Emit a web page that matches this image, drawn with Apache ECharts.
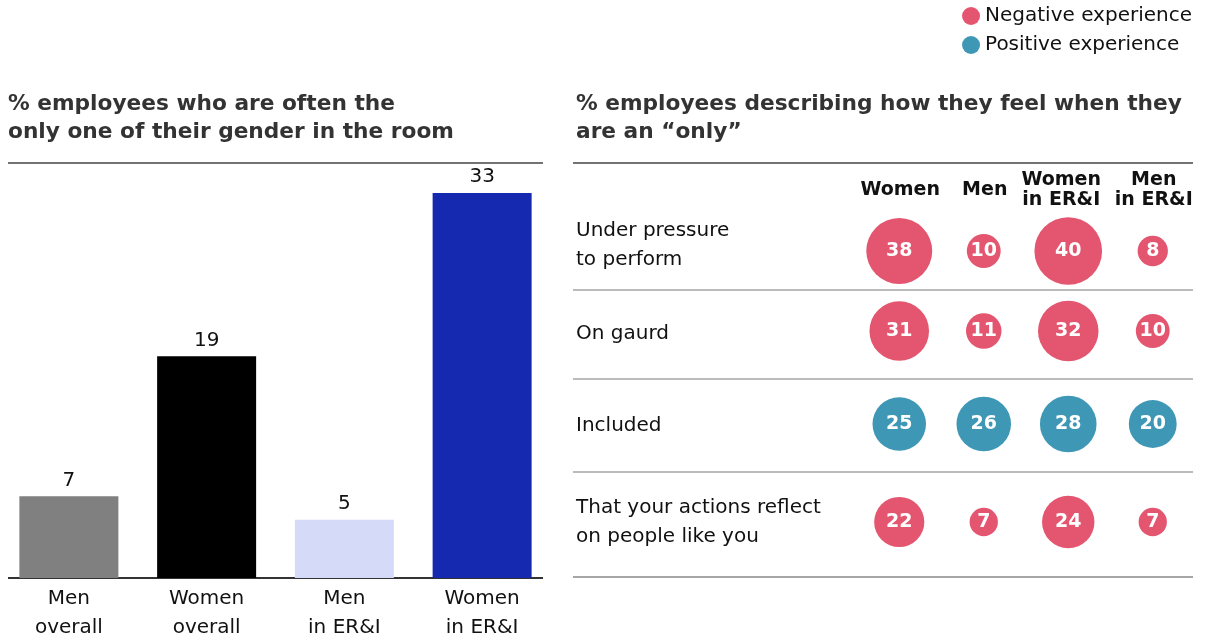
<!DOCTYPE html>
<html>
<head>
<meta charset="utf-8">
<script src="https://cdn.jsdelivr.net/npm/echarts@6/dist/echarts.min.js"></script>
<style>
  html, body { margin: 0; padding: 0; background: #fff; }
  #chart { width: 1206px; height: 638px; }
</style>
</head>
<body>
<div id="chart"></div>
<script>
// Share of employees who are often the only one of their gender in the room
const barCategories = ['Men\noverall', 'Women\noverall', 'Men\nin ER&I', 'Women\nin ER&I'];
const barValues = [7, 19, 5, 33];

// How employees feel when they are an "only"
const groups = ['Women', 'Men', 'Women\nin ER&I', 'Men\nin ER&I'];
const feelings = ['Under pressure\nto perform', 'On gaurd', 'Included', 'That your actions reflect\non people like you'];
const feelingTone = ['Negative experience', 'Negative experience', 'Positive experience', 'Negative experience'];
const feelingValues = [
  [38, 10, 40, 8],
  [31, 11, 32, 10],
  [25, 26, 28, 20],
  [22, 7, 24, 7]
];
const toneNames = ['Negative experience', 'Positive experience'];

// Styling
const FONT = '"DejaVu Sans", "Liberation Sans", Arial, sans-serif';
const barPalette = ['#808080', '#000000', '#d5daf8', '#1529b0'];
const toneColors = { 'Negative experience': '#e4556f', 'Positive experience': '#3e97b5' };

// Row bands of the bubble table (top / height in px) and label nudges
const rowBands = [
  { top: 212, height: 78, pad: [0, 0, 12, 0] },
  { top: 290, height: 82, pad: [6, 0, 0, 0] },
  { top: 379, height: 90, pad: [4, 0, 0, 0] },
  { top: 472, height: 100, pad: [0, 0, 0, 0] }
];
// Horizontal nudges of the column headers
const headerPad = [[0, 0, 0, 2], [0, 0, 0, 2], [0, 14, 0, 0], [0, 4, 0, 6]];
const tableLeft = 857, tableRight = 11, labelX = 576;

// Wrap every line of a label in the same rich style
const wrap = (text, key) => text.split('\n').map(l => '{' + key + '|' + l + '}').join('\n');

const chart = echarts.init(document.getElementById('chart'), null, { renderer: 'canvas' });

const grids = [];
const xAxes = [];
const yAxes = [];
const series = [];

// Bar chart on the left
grids.push({ left: 0, width: 551, top: 193, bottom: 60, outerBoundsMode: 'none', containLabel: false });
xAxes.push({
  gridIndex: 0, type: 'category', data: barCategories,
  axisLine: { show: false }, axisTick: { show: false },
  axisLabel: { interval: 0, fontFamily: FONT, fontSize: 20, lineHeight: 29, color: '#111', margin: 6 }
});
yAxes.push({ gridIndex: 0, type: 'value', min: 0, max: 'dataMax', show: false, splitLine: { show: false } });
series.push({
  type: 'bar', xAxisIndex: 0, yAxisIndex: 0, barWidth: 99,
  data: barValues.map((v, i) => ({ value: v, itemStyle: { color: barPalette[i] } })),
  label: { show: true, position: 'top', distance: 6, fontFamily: FONT, fontSize: 20, color: '#111' },
  silent: true
});

const headerRich = {};
headerPad.forEach((p, j) => {
  headerRich['h' + j] = {
    fontFamily: FONT, fontSize: 19, fontWeight: 'bold', lineHeight: 20, color: '#111', padding: p
  };
});

// Bubble table on the right: one grid per row
feelings.forEach((f, i) => {
  const g = i + 1;
  const band = rowBands[i];
  grids.push({ left: tableLeft, right: tableRight, top: band.top, height: band.height, outerBoundsMode: 'none', containLabel: false });
  xAxes.push({
    gridIndex: g, type: 'category', data: groups,
    position: 'top',
    axisLine: { show: false }, axisTick: { show: false }, splitLine: { show: false },
    axisLabel: i === 0 ? {
      show: true, interval: 0, verticalAlign: 'middle', margin: 22,
      formatter: (v, j) => wrap(v, 'h' + j),
      rich: headerRich
    } : { show: false }
  });
  yAxes.push({
    gridIndex: g, type: 'category', data: [f],
    axisLine: { show: false }, axisTick: { show: false }, splitLine: { show: false },
    axisLabel: {
      align: 'left', margin: tableLeft - labelX, verticalAlign: 'middle',
      formatter: v => wrap(v, 'r'),
      rich: { r: { fontFamily: FONT, fontSize: 20, lineHeight: 29, color: '#111', padding: band.pad } }
    }
  });
  series.push({
    type: 'scatter', name: feelingTone[i], xAxisIndex: g, yAxisIndex: g,
    data: feelingValues[i].map((v, j) => [groups[j], f, v]),
    symbolSize: d => 10.7 * Math.sqrt(d[2]),
    itemStyle: { color: toneColors[feelingTone[i]], opacity: 1 },
    label: {
      show: true, position: 'inside', formatter: p => p.value[2],
      fontFamily: FONT, fontSize: 19, fontWeight: 'bold', color: '#fff'
    },
    emphasis: { disabled: true },
    silent: true
  });
});

const rule = (x1, x2, y, color, w) => ({
  type: 'line', shape: { x1, y1: y, x2, y2: y },
  style: { stroke: color, lineWidth: w }, silent: true
});

chart.setOption({
  backgroundColor: '#fff',
  animation: false,
  title: [
    {
      text: '% employees who are often the\nonly one of their gender in the room',
      left: 8, top: 90, padding: 0,
      textStyle: { fontFamily: FONT, fontSize: 21.7, fontWeight: 'bold', color: '#333', lineHeight: 28 }
    },
    {
      text: '% employees describing how they feel when they\nare an \u201conly\u201d',
      left: 576, top: 90, padding: 0,
      textStyle: { fontFamily: FONT, fontSize: 21.7, fontWeight: 'bold', color: '#333', lineHeight: 28 }
    }
  ],
  legend: {
    data: toneNames, orient: 'vertical', right: 14, top: 6, padding: 0,
    icon: 'circle', itemWidth: 18, itemHeight: 18, itemGap: 9,
    selectedMode: false,
    textStyle: { fontFamily: FONT, fontSize: 20, color: '#111' }
  },
  grid: grids,
  xAxis: xAxes,
  yAxis: yAxes,
  series: series,
  graphic: [
    rule(8, 543, 163, '#444', 1.5),
    rule(573, 1193, 163, '#444', 1.5),
    rule(8, 543, 578, '#333', 2),
    rule(573, 1193, 290, '#bbb', 2),
    rule(573, 1193, 379, '#bbb', 2),
    rule(573, 1193, 472, '#bbb', 2),
    rule(573, 1193, 577, '#888', 1.5)
  ]
});
</script>
</body>
</html>
